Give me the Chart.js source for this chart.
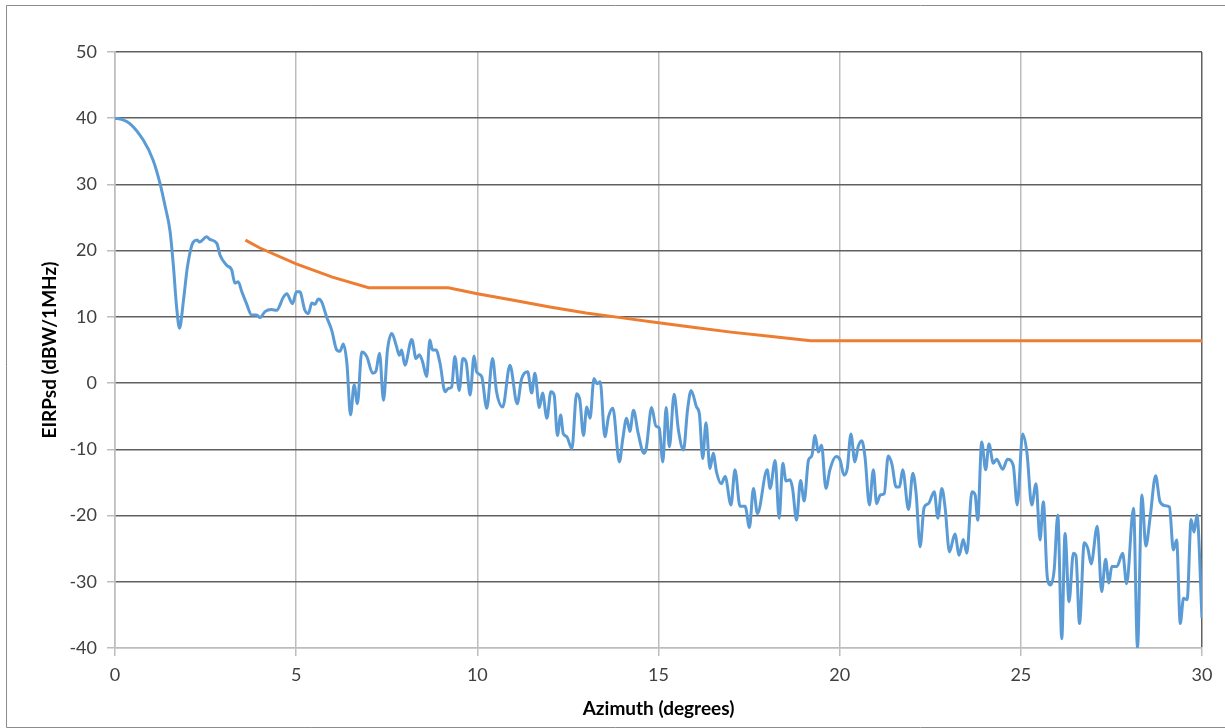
<!DOCTYPE html>
<html>
<head>
<meta charset="utf-8">
<script src="https://cdn.jsdelivr.net/npm/chart.js@4/dist/chart.umd.min.js"></script>
<style>
  html, body { margin: 0; padding: 0; background: #fff; }
  #wrap { width: 1225px; height: 728px; }
</style>
</head>
<body>
<div id="wrap"><canvas id="myChart" width="1225" height="728"></canvas></div>
<script>
const blueAz = [
  0, 0.2, 0.41, 0.78, 1.05, 1.24, 1.38, 1.52, 1.61, 1.70, 1.78, 1.89, 2.00, 2.16, 2.27, 2.33, 2.53, 2.62, 2.81, 2.90,
  3.08, 3.22, 3.31, 3.40, 3.50, 3.63, 3.77, 3.91, 4.00, 4.14, 4.32, 4.46, 4.65, 4.74, 4.90, 5.01, 5.10,
  5.24, 5.34, 5.43, 5.52, 5.61, 5.70, 5.84, 5.98, 6.12, 6.21, 6.30, 6.40, 6.50, 6.60, 6.69, 6.81, 6.95,
  7.11, 7.20, 7.30, 7.41, 7.52, 7.64, 7.76, 7.85, 7.91, 8.00, 8.19, 8.31, 8.40, 8.49, 8.60, 8.69, 8.76,
  8.86, 8.97, 9.11, 9.20, 9.29, 9.38, 9.50, 9.60, 9.69, 9.80, 9.91, 9.98, 10.12,
  10.26, 10.42, 10.53, 10.70, 10.90, 11.10, 11.22, 11.39, 11.50, 11.59, 11.71, 11.80, 11.92, 12.03, 12.12,
  12.21, 12.30, 12.37, 12.47, 12.61, 12.74, 12.83, 12.93, 13.02, 13.11, 13.22, 13.30, 13.39, 13.52, 13.62,
  13.74, 13.92, 14.01, 14.12, 14.21, 14.31, 14.44, 14.60, 14.66, 14.81, 14.93, 15.02, 15.12, 15.21, 15.30,
  15.43, 15.55, 15.69, 15.80, 15.90, 16.05, 16.13, 16.22, 16.31, 16.42, 16.51, 16.60, 16.73, 16.84, 17.00,
  17.11, 17.25, 17.39, 17.51, 17.62, 17.73, 18.00, 18.08, 18.22, 18.33, 18.43, 18.52, 18.63, 18.70, 18.81,
  18.92, 19.02, 19.14, 19.23, 19.32, 19.41, 19.50, 19.62, 19.73, 19.90, 20.01, 20.12, 20.21, 20.31, 20.42,
  20.51, 20.61, 20.70, 20.82, 20.93, 21.02, 21.12, 21.23, 21.34, 21.44, 21.56, 21.65, 21.74, 21.90, 22.02,
  22.11, 22.22, 22.33, 22.45, 22.61, 22.71, 22.82, 22.91, 23.03, 23.18, 23.30, 23.41, 23.51, 23.65, 23.74,
  23.81, 23.92, 24.03, 24.12, 24.24, 24.33, 24.50, 24.63, 24.79, 24.90, 25.05, 25.17, 25.30, 25.42, 25.53,
  25.62, 25.73, 25.82, 25.92, 26.02, 26.13, 26.22, 26.33, 26.45, 26.52, 26.62, 26.75, 26.85, 26.94, 27.11,
  27.23, 27.34, 27.43, 27.51, 27.65, 27.81, 27.92, 28.11, 28.22, 28.34, 28.45, 28.57, 28.72, 28.84, 28.98,
  29.10, 29.21, 29.30, 29.40, 29.49, 29.59, 29.70, 29.78, 29.86, 30.0
];
const blueEirp = [
  40, 39.8, 39.2, 36.7, 33.7, 30.2, 26.8, 22.9, 17.8, 11.5, 8.3, 12.5, 17.6, 21.3, 21.6, 21.3, 22.1, 21.7, 21.1, 19.3,
  17.8, 17.1, 15.1, 15.3, 13.8, 12.0, 10.3, 10.3, 9.9, 10.8, 11.1, 11.0, 13.0, 13.5, 12.0, 13.8, 13.8,
  11.0, 10.5, 12.1, 11.9, 12.7, 12.3, 10.0, 8.0, 5.0, 4.8, 5.9, 3.0, -4.8, -0.3, -3.1, 4.7, 4.0,
  1.5, 1.8, 4.5, -2.6, 5.0, 7.5, 5.7, 4.2, 5.0, 2.7, 6.6, 3.7, 4.3, 3.2, 1.0, 6.5, 5.0,
  5.0, 3.0, -1.3, -0.8, -0.6, 4.0, -1.1, 3.7, 3.2, -1.8, 4.1, 1.7, 1.0,
  -3.8, 3.7, -1.3, -3.6, 2.7, -3.1, 0.6, 1.7, -1.5, 1.5, -3.7, -1.5, -5.3, -1.3, -1.8,
  -7.9, -4.8, -7.6, -8.1, -9.9, -1.6, -2.6, -7.9, -3.6, -5.3, 0.7, -0.1, 0.2, -8.1, -5.1,
  -3.8, -11.9, -8.6, -5.3, -7.3, -4.1, -7.6, -10.6, -9.9, -3.7, -6.5, -6.8, -11.9, -3.7, -9.6,
  -1.7, -7.1, -10.1, -4.1, -1.1, -3.6, -4.7, -11.4, -6.0, -12.9, -10.6, -13.4, -15.2, -14.1, -18.4,
  -13.1, -18.6, -18.6, -21.8, -15.9, -19.7, -13.1, -15.9, -11.7, -20.4, -12.1, -14.8, -14.6, -15.9, -20.7,
  -14.7, -17.8, -11.6, -11.0, -7.9, -10.4, -9.4, -15.9, -13.1, -11.1, -11.6, -13.9, -12.9, -7.7, -11.9,
  -9.6, -8.7, -11.2, -18.4, -13.1, -18.2, -16.9, -16.7, -11.0, -12.2, -15.7, -15.7, -13.1, -19.1, -13.6,
  -16.7, -24.7, -18.8, -18.2, -16.4, -20.4, -15.9, -18.8, -25.5, -22.8, -26.0, -23.6, -25.7, -16.4, -16.9,
  -20.7, -8.9, -13.1, -9.2, -12.1, -11.5, -13.0, -11.5, -12.4, -18.4, -7.7, -10.6, -18.4, -15.2, -23.7,
  -17.9, -29.3, -30.5, -28.2, -19.9, -38.6, -22.7, -33.0, -25.7, -26.0, -36.3, -24.1, -25.0, -27.3, -21.6,
  -31.5, -26.6, -30.2, -27.7, -27.7, -25.7, -30.3, -18.9, -40.0, -16.9, -24.6, -20.2, -14.0, -17.9, -18.5,
  -18.7, -25.2, -23.7, -36.3, -32.5, -32.7, -20.6, -22.5, -19.9, -35.5
];

// limit mask (orange)
const maskAz = [3.6, 4, 5, 6, 7, 9.2, 10, 11, 12, 13, 14, 15, 16, 17, 18, 19.2, 30];
const maskEirp = [21.6, 20.4, 18.0, 16.0, 14.4, 14.4, 13.5, 12.5, 11.5, 10.6, 9.85, 9.1, 8.4, 7.7, 7.1, 6.4, 6.4];

const xTicks = [0, 5, 10, 15, 20, 25, 30];
const yTicks = [-40, -30, -20, -10, 0, 10, 20, 30, 40, 50];

const pts = (xs, ys) => xs.map((x, i) => ({ x: x, y: ys[i] }));

const frame = {
  id: "frame",
  afterDraw(chart) {
    const c = chart.ctx;
    c.save();
    c.strokeStyle = "#8c8c8c";
    c.lineWidth = 1;
    c.beginPath();
    c.moveTo(1225, 5.5);
    c.lineTo(6.5, 5.5);
    c.lineTo(6.5, 727.5);
    c.lineTo(1225, 727.5);
    c.stroke();
    c.restore();
  },
};

const font = "Lato, 'Open Sans', sans-serif";

new Chart(document.getElementById("myChart"), {
  type: "line",
  data: {
    datasets: [
      {
        label: "EIRPsd",
        data: pts(blueAz, blueEirp),
        borderColor: "#5b9bd5",
        borderWidth: 3,
        pointRadius: 0,
        cubicInterpolationMode: "monotone",
      },
      {
        label: "Mask",
        data: pts(maskAz, maskEirp),
        borderColor: "#ed7d31",
        borderWidth: 3,
        pointRadius: 0,
        tension: 0,
      },
    ],
  },
  options: {
    responsive: false,
    animation: false,
    layout: { padding: { left: 6, right: 23, top: 52, bottom: 0 } },
    plugins: { legend: { display: false }, tooltip: { enabled: false } },
    scales: {
      x: {
        type: "linear",
        min: 0,
        max: 30,
        afterBuildTicks: (s) => { s.ticks = xTicks.map((v) => ({ value: v })); },
        afterFit: (s) => { s.height = 80; },
        grid: {
          color: (c) => (c.tick && c.tick.value === 30 ? "#606060" : "#bdbdbd"),
          lineWidth: 1.5,
          tickLength: 8,
          tickColor: "#bdbdbd",
        },
        border: { color: "#bdbdbd", width: 1.5 },
        ticks: { color: "#404040", font: { family: font, size: 18 }, padding: 8, maxRotation: 0 },
        title: {
          display: true,
          text: "Azimuth (degrees)",
          color: "#000",
          font: { family: font, size: 19, weight: "bold" },
          padding: { top: 4, bottom: 8 },
        },
      },
      y: {
        min: -40,
        max: 50,
        afterBuildTicks: (s) => { s.ticks = yTicks.map((v) => ({ value: v })); },
        afterFit: (s) => { s.width = 109; },
        grid: {
          color: (c) => (c.tick && c.tick.value === -40 ? "#bdbdbd" : "#606060"),
          lineWidth: 1.5,
          tickLength: 8,
          tickColor: "#bdbdbd",
        },
        border: { color: "#bdbdbd", width: 1.5 },
        ticks: { color: "#404040", font: { family: font, size: 18 }, padding: 10 },
        title: {
          display: true,
          text: "EIRPsd (dBW/1MHz)",
          color: "#000",
          font: { family: font, size: 19, weight: "bold" },
          padding: { top: 32, bottom: 0 },
        },
      },
    },
  },
  plugins: [frame],
});
</script>
</body>
</html>
